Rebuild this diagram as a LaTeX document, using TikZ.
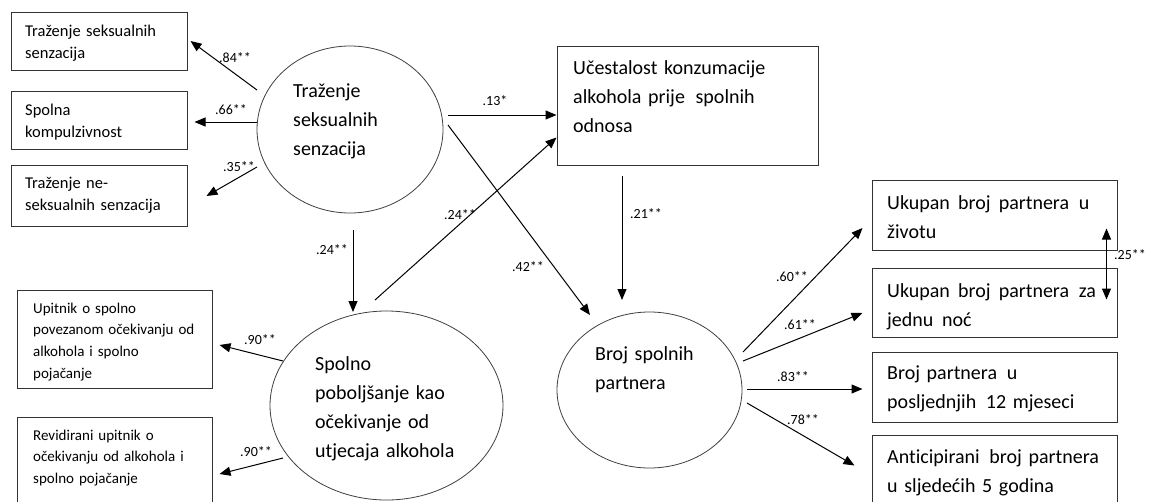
\documentclass[tikz,border=0pt]{standalone}
\usepackage{fontspec}
\setmainfont{Carlito}[Ligatures=NoCommon]
\usetikzlibrary{arrows.meta,shapes.geometric,calc}
\begin{document}
\begin{tikzpicture}[x=1pt,y=-1pt,
  box/.style={draw=black!80, line width=1pt, rectangle, inner sep=0pt},
  lat/.style={draw=black!75, line width=0.8pt, ellipse, inner sep=0pt},
  arr/.style={line width=1pt, -{Triangle[length=11pt,width=9pt]}},
  dbl/.style={line width=1pt, {Triangle[length=11pt,width=9pt]}-{Triangle[length=11pt,width=9pt]}},
  lbl/.style={font=\fontsize{14}{14}\selectfont, inner sep=0pt},
  bigtxt/.style={font=\fontsize{20}{29}\selectfont, anchor=base west, align=left, inner sep=0pt, text width=240pt},
  midtxt/.style={font=\fontsize{16.5}{22.5}\selectfont, anchor=base west, align=left, inner sep=0pt, text width=170pt},
  smtxt/.style={font=\fontsize{15}{21.7}\selectfont, anchor=base west, align=left, inner sep=0pt, text width=180pt}
]
\useasboundingbox (0,0) rectangle (1150,501);
\clip (0,0) rectangle (1150,501);
\fill[white] (0,0) rectangle (1150,501);

% left indicator boxes
\node[box, minimum width=176, minimum height=58] (a1) at (99,41) {};
\node[box, minimum width=176, minimum height=58] (a2) at (99,120) {};
\node[box, minimum width=176, minimum height=61] (a3) at (99,195.5) {};
\node[midtxt] (a1t) at (25,36) {Traženje seksualnih\\senzacija};
\node[midtxt] (a2t) at (25,115) {Spolna\\kompulzivnost};
\node[midtxt] (a3t) at (25,188) {Traženje ne-\\seksualnih senzacija};

\node[box, minimum width=195, minimum height=98] (b1) at (114.5,339) {};
\node[box, minimum width=195, minimum height=93] (b2) at (114.5,463.5) {};
\node[smtxt] (b1t) at (33,313) {Upitnik o spolno\\povezanom očekivanju od\\alkohola i spolno\\pojačanje};
\node[smtxt] (b2t) at (33,440) {Revidirani upitnik o\\očekivanju od alkohola i\\spolno pojačanje};

% latent variables
\node[lat, minimum width=186, minimum height=167] (ss) at (350,129.5) {};
\node[bigtxt] (sst) at (293,97) {Traženje\\seksualnih\\senzacija};
\node[lat, minimum width=233, minimum height=189] (sp) at (386.5,405.5) {};
\node[bigtxt] (spt) at (315,370) {Spolno\\poboljšanje kao\\očekivanje od\\utjecaja alkohola};
\node[lat, minimum width=185, minimum height=156] (bsp) at (649.5,390) {};
\node[bigtxt] (bspt) at (595,360) {Broj spolnih\\partnera};

% alcohol box
\node[box, minimum width=261, minimum height=119] (u) at (687.5,105.5) {};
\node[bigtxt] (ut) at (573,74) {Učestalost konzumacije\\alkohola prije\hspace{4pt} spolnih\\odnosa};

% right boxes
\node[box, minimum width=245, minimum height=70] (r1) at (994.5,215) {};
\node[box, minimum width=245, minimum height=69] (r2) at (994.5,302.5) {};
\node[box, minimum width=245, minimum height=70] (r3) at (994.5,387) {};
\node[box, minimum width=245, minimum height=75] (r4) at (994.5,472.5) {};
\node[bigtxt] (r1t) at (887,209) {Ukupan\hspace{1.5pt} broj\hspace{1.5pt} partnera\hspace{3pt} u\\životu};
\node[bigtxt] (r2t) at (887,297) {Ukupan\hspace{1.5pt} broj\hspace{1.5pt} partnera\hspace{3pt} za\\jednu\hspace{2pt} noć};
\node[bigtxt] (r3t) at (887,379) {Broj partnera\hspace{3pt} u\\posljednjih\hspace{3pt} 12 mjeseci};
\node[bigtxt] (r4t) at (887,463) {Anticipirani\hspace{3pt} broj partnera\\u sljedećih 5 godina};

% arrows from SS to indicators
\draw[arr] ($(ss.center)+(-93,-39.5)$) -- ($(a1.east)+(3,0)$);
\draw[arr] ($(ss.center)+(-93,-7.5)$) -- ($(a2.east)+(7,2)$);
\draw[arr] ($(ss.center)+(-93,37.5)$) -- ($(a3.east)+(19,0.5)$);
\node[lbl] (l84) at (235,58) {.84**};
\node[lbl] (l66) at (231,110) {.66**};
\node[lbl] (l35) at (239,167) {.35**};

% structural paths
\draw[arr] ($(ss.center)+(98,-14.5)$) -- ($(u.west)+(0,9.5)$);
\node[lbl] (l13) at (495,101) {.13*};
\draw[arr] ($(ss.center)+(98,-4.5)$) -- ($(bsp.center)+(-59.5,-75)$);
\node[lbl] (l42) at (528,267) {.42**};
\draw[arr] ($(sp.center)+(-11.5,-105.5)$) -- ($(u.south west)+(0,-28)$);
\node[lbl] (l24b) at (460,215) {.24**};
\draw[arr] ($(u.south)+(-65.5,10)$) -- ($(bsp.center)+(-27.5,-90)$);
\node[lbl] (l21) at (646,214) {.21**};
\draw[arr] ($(ss.center)+(3,100.5)$) -- ($(sp.center)+(-33.5,-93.5)$);
\node[lbl] (l24a) at (332,250) {.24**};

% SP indicators
\draw[arr] ($(sp.center)+(-103.5,-44.5)$) -- ($(b1.east)+(7,6)$);
\node[lbl] (l90a) at (260,340) {.90**};
\draw[arr] ($(sp.center)+(-103.5,52.5)$) -- ($(b2.east)+(7,10.5)$);
\node[lbl] (l90b) at (256,452) {.90**};

% BSP indicators
\draw[arr] ($(bsp.center)+(93.5,-38)$) -- ($(r1.west)+(-9,13)$);
\node[lbl] (l60) at (792,277) {.60**};
\draw[arr] ($(bsp.center)+(93.5,-29)$) -- ($(r2.west)+(-9,10.5)$);
\node[lbl] (l61) at (800,325) {.61**};
\draw[arr] ($(bsp.center)+(97.5,-1)$) -- ($(r3.west)+(-9,2)$);
\node[lbl] (l83) at (793,377) {.83**};
\draw[arr] ($(bsp.center)+(97.5,13)$) -- ($(r4.north west)+(-17,31)$);
\node[lbl] (l78) at (803,420) {.78**};

% correlation
\draw[dbl] ($(r1.south east)+(-11,-22)$) -- ($(r2.north east)+(-11,32)$);
\node[lbl] (l25) at (1130,255) {.25**};
\end{tikzpicture}
\end{document}
